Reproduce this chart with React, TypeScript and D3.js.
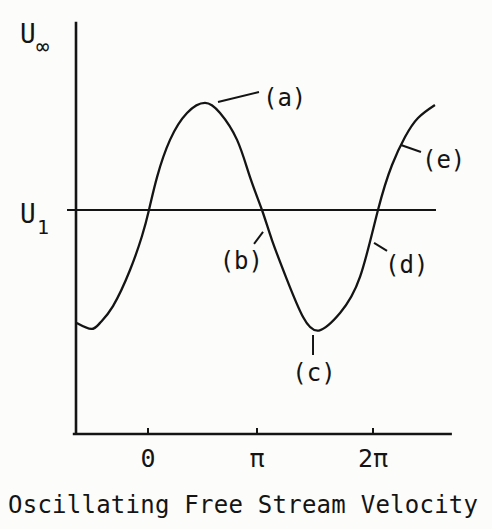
import React from "react";
import * as d3 from "d3";

// Phase of the free stream oscillation, in units of π
const phase = [
  -0.654, -0.52, -0.44, -0.321, -0.165, -0.055, 0.009, 0.083, 0.202, 0.358,
  0.523, 0.661, 0.817, 0.936, 1.043, 1.129, 1.259, 1.397, 1.534,
  1.716, 1.888, 2.043, 2.164, 2.276, 2.388, 2.534,
];
// Free stream velocity relative to the mean velocity U1
const velocity = [
  0.496, 0.469, 0.496, 0.571, 0.732, 0.884, 1.0, 1.147, 1.313, 1.433,
  1.478, 1.433, 1.313, 1.147, 1.0, 0.866, 0.688, 0.522, 0.462,
  0.54, 0.701, 1.0, 1.201, 1.326, 1.411, 1.469,
];

const tickValues = [0, 1, 2];
const tickLabels = ["0", "π", "2π"];

const meanVelocity = 1;

// Marked points on the cycle: label, phase (π units), velocity
const markLabels = ["(a)", "(b)", "(c)", "(d)", "(e)"];
const markPhase = [0.642, 1.052, 1.483, 2.009, 2.241];
const markVelocity = [1.482, 0.902, 0.442, 0.853, 1.29];

const title = "Oscillating Free Stream Velocity";

// Leader and label offsets (pixels) for each marked point
const markLayout = [
  { ex: 41, ey: -10, tx: 45, ty: 4, anchor: "start" },
  { ex: -9, ey: 12, tx: 0, ty: 37, anchor: "end" },
  { ex: 0, ey: 20, tx: 1, ty: 46, anchor: "middle" },
  { ex: 13, ey: 8, tx: 11, ty: 30, anchor: "start" },
  { ex: 20, ey: 7, tx: 21, ty: 23, anchor: "start" },
];

const W = 492;
const H = 529;
const ink = "#141414";
const font = "'DejaVu Sans Mono', monospace";

export default function App() {
  const x = d3.scaleLinear().domain([0, 1, 2]).range([148, 257, 373]);
  const y = d3.scaleLinear().domain([0, 1]).range([434, 210]);

  const points: [number, number][] = phase.map((p, i) => [p, velocity[i]]);
  const line = d3
    .line<[number, number]>()
    .x((d) => x(d[0]))
    .y((d) => y(d[1]))
    .curve(d3.curveNatural);

  const axisX0 = 76;
  const axisTop = y(1.84);
  const axisBottom = y(0);

  return (
    <svg
      width={W}
      height={H}
      style={{ position: "absolute", left: 0, top: 0, background: "#fcfcfb" }}
      fontFamily={font}
      fill={ink}
    >
      {/* vertical axis */}
      <line x1={axisX0} x2={axisX0} y1={axisTop} y2={axisBottom + 1} stroke={ink} strokeWidth={2.6} />
      {/* horizontal axis */}
      <line x1={x(-0.69)} x2={x(2.68)} y1={axisBottom} y2={axisBottom} stroke={ink} strokeWidth={2.4} />
      {tickValues.map((t, i) => (
        <g key={t}>
          <line x1={x(t)} x2={x(t)} y1={axisBottom} y2={axisBottom - 6} stroke={ink} strokeWidth={2} />
          <text x={x(t)} y={467} fontSize={25} textAnchor="middle">
            {tickLabels[i]}
          </text>
        </g>
      ))}

      {/* mean velocity level */}
      <line
        x1={x(-0.743)}
        x2={x(2.543)}
        y1={y(meanVelocity)}
        y2={y(meanVelocity)}
        stroke={ink}
        strokeWidth={2.2}
      />

      {/* velocity curve */}
      <path d={line(points) ?? ""} fill="none" stroke={ink} strokeWidth={2.3} />

      {/* marked points */}
      {markLabels.map((lab, i) => {
        const px = x(markPhase[i]);
        const py = y(markVelocity[i]);
        const L = markLayout[i];
        return (
          <g key={lab}>
            <line x1={px} y1={py} x2={px + L.ex} y2={py + L.ey} stroke={ink} strokeWidth={2} />
            <text x={px + L.tx} y={py + L.ty} fontSize={24} textAnchor={L.anchor}>
              {lab}
            </text>
          </g>
        );
      })}

      {/* axis labels */}
      <text x={20} y={43} fontSize={26}>U</text>
      <text x={36} y={54} fontSize={22}>∞</text>
      <text x={20} y={223} fontSize={26}>U</text>
      <text x={37} y={234} fontSize={20}>1</text>

      {/* title */}
      <text x={8} y={513} fontSize={24} textLength={470} lengthAdjust="spacing">
        {title}
      </text>
    </svg>
  );
}
